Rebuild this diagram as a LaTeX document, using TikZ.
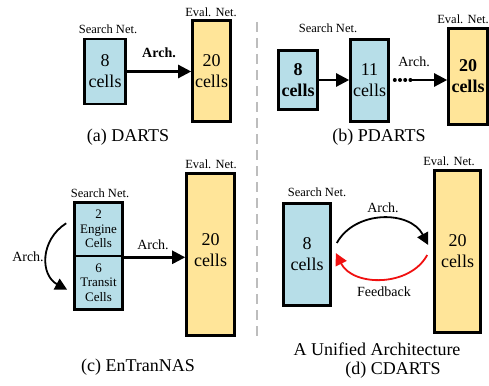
\documentclass[tikz,border=0pt]{standalone}
\usepackage{fontspec}
\setmainfont{Liberation Serif}
\usetikzlibrary{arrows.meta,calc}

\definecolor{searchblue}{HTML}{B7DEE8}
\definecolor{evalyellow}{HTML}{FFE599}
\definecolor{sepgray}{HTML}{BDBDBD}
\definecolor{fbred}{HTML}{F01010}

\tikzset{
  netbox/.style={draw=black, line width=2.6pt, inner sep=0pt, align=center,
    font=\fontsize{18}{21}\selectfont},
  searchbox/.style={netbox, fill=searchblue},
  evalbox/.style={netbox, fill=evalyellow},
  smallcells/.style={font=\fontsize{13}{14.5}\selectfont},
  boxtext/.style={align=center, inner sep=0pt, font=\fontsize{18}{21}\selectfont},
  netlabel/.style={font=\fontsize{12.5}{14}\selectfont, inner sep=0pt},
  archlabel/.style={font=\fontsize{14}{16}\selectfont, inner sep=0pt},
  caption/.style={font=\fontsize{18}{21}\selectfont, inner sep=0pt},
  flow/.style={line width=2.4pt, -{Triangle[length=13pt,width=13pt]}},
  curvedflow/.style={line width=1.8pt, -{Triangle[length=12pt,width=12pt]}},
  separator/.style={draw=sepgray, line width=1.6pt, dash pattern=on 10pt off 6pt}
}

\begin{document}
\begin{tikzpicture}[x=1pt, y=-1pt]
\useasboundingbox (0,0) rectangle (489,385);
\clip (0,0) rectangle (489,385);

% vertical separator between left and right columns
\coordinate (septop) at (257,22);
\coordinate (sepbot) at (257,337);
\draw[separator] (septop) -- (sepbot);

% ---------- (a) DARTS ----------
\node[searchbox, minimum width=41pt, minimum height=65pt] (a1) at (105,71.5) {8\\cells};
\node[evalbox, minimum width=38pt, minimum height=101pt] (a2) at (211.5,71) {20\\cells};
\node[netlabel] (a1l) at (108,29) {Search Net.};
\node[netlabel] (a2l) at (211,12) {Eval. Net.};
\draw[flow] (a1.east) -- (a1.east -| a2.west);
\node[archlabel, font=\fontsize{14}{16}\selectfont\bfseries] (aarch) at (159,53) {Arch.};
\node[caption] (acap) at (128,137) {(a) DARTS};

% ---------- (b) PDARTS ----------
\node[searchbox, minimum width=39pt, minimum height=59pt,
      font=\fontsize{18}{21}\selectfont\bfseries] (b1) at (298,80) {8\\cells};
\node[searchbox, minimum width=38pt, minimum height=82pt] (b2) at (369.5,80.5) {11\\cells};
\node[evalbox, minimum width=39pt, minimum height=96pt,
      font=\fontsize{18}{21}\selectfont\bfseries] (b3) at (468,76.5) {20\\cells};
\node[netlabel] (b1l) at (328,28) {Search Net.};
\node[netlabel] (b3l) at (463,19) {Eval. Net.};
\draw[flow] (b1.east |- 0,80) -- (b2.west |- 0,80);
\coordinate (bdots) at (411,80);
\draw[line width=4pt, line cap=round, dash pattern=on 0pt off 5.2pt] (b2.east |- bdots) ++(5,0) -- (bdots);
\draw[flow] (bdots) -- (bdots -| b3.west);
\node[archlabel] (barch) at (414,62) {Arch.};
\node[caption] (bcap) at (379,137) {(b) PDARTS};

% ---------- (c) EnTranNAS ----------
\node[searchbox, smallcells, minimum width=48pt, minimum height=53.5pt] (c1) at (98.5,229.25) {2\\Engine\\Cells};
\node[searchbox, smallcells, minimum width=48pt, minimum height=53.5pt] (c2) at (98.5,282.75) {6\\Transit\\Cells};
\node[evalbox, minimum width=48pt, minimum height=162pt] (c3) at (210.5,254.5) {};
\node[boxtext] (c3t) at (210.5,250) {20\\cells};
\node[netlabel] (c1l) at (100,193) {Search Net.};
\node[netlabel] (c3l) at (211,164) {Eval. Net.};
\draw[flow] (c1.south east) -- (c1.south east -| c3.west);
\node[archlabel] (carch) at (153,245) {Arch.};
\coordinate (cbs) at ($(c1.west)+(-7,-6)$);
\coordinate (cbe) at ($(c2.west)+(-6,7)$);
\draw[curvedflow] (cbs) .. controls (40,240) and (40,275) .. (cbe);
\node[archlabel] (carch2) at (28,257) {Arch.};
\node[caption] (ccap) at (138,367) {(c) EnTranNAS};

% ---------- (d) CDARTS ----------
\node[searchbox, minimum width=47pt, minimum height=102pt] (d1) at (307,254.5) {8\\cells};
\node[evalbox, minimum width=46pt, minimum height=162pt] (d2) at (457.5,251.5) {20\\cells};
\node[netlabel] (d1l) at (317,192) {Search Net.};
\node[netlabel] (d2l) at (449,161) {Eval. Net.};
\coordinate (das) at ($(d1.east)+(5,-11.5)$);
\coordinate (dae) at ($(d2.west)+(-5,-6.5)$);
\coordinate (dfs) at ($(d2.west)+(-6,3.5)$);
\coordinate (dfe) at ($(d1.east)+(4,-1.5)$);
\draw[curvedflow] (das) .. controls (355,210) and (410,210) .. (dae);
\draw[curvedflow, draw=fbred] (dfs) .. controls (410,287) and (353,287) .. (dfe);
\node[archlabel] (darch) at (383,208) {Arch.};
\node[archlabel] (dfb) at (384,292) {Feedback};
\node[caption] (dcap1) at (377,349) {A Unified Architecture};
\node[caption] (dcap2) at (393,370) {(d) CDARTS};
\end{tikzpicture}
\end{document}
